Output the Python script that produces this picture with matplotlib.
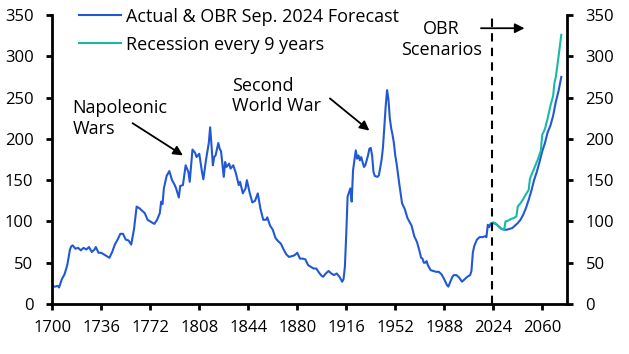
import matplotlib.pyplot as plt

# ==========================================
# Data (UK public debt, % of GDP)
# ==========================================

hist_years = [1700, 1702, 1704, 1705, 1707, 1709, 1711, 1713, 1714, 1715, 1717, 1719,
              1721, 1723, 1725, 1727, 1729, 1731, 1732, 1734, 1736, 1738, 1740, 1742,
              1744, 1746, 1748, 1750, 1752, 1754, 1756, 1758, 1760, 1762, 1764, 1766,
              1768, 1770, 1772, 1775, 1777, 1779, 1780, 1781, 1782, 1784, 1786, 1788,
              1790, 1791, 1793, 1794, 1796, 1798, 1800, 1801, 1803, 1805, 1806, 1808,
              1810, 1811, 1813, 1815, 1816, 1817, 1818, 1819, 1820, 1822, 1823, 1824,
              1826, 1827, 1828, 1830, 1831, 1833, 1835, 1837, 1838, 1840, 1842, 1843,
              1845, 1847, 1849, 1851, 1853, 1855, 1857, 1858, 1860, 1862, 1864, 1866,
              1868, 1870, 1872, 1874, 1876, 1878, 1880, 1882, 1884, 1886, 1888, 1890,
              1892, 1894, 1896, 1898, 1899, 1901, 1903, 1905, 1907, 1909, 1911, 1913,
              1914, 1915, 1916, 1917, 1918, 1919, 1920, 1921, 1923, 1924, 1925, 1926,
              1927, 1929, 1930, 1932, 1933, 1934, 1935, 1936, 1937, 1939, 1940, 1942,
              1943, 1944, 1945, 1946, 1947, 1948, 1949, 1950, 1951, 1952, 1953, 1955,
              1957, 1959, 1961, 1963, 1964, 1966, 1968, 1969, 1970, 1971, 1972, 1973,
              1974, 1975, 1976, 1978, 1980, 1982, 1984, 1986, 1988, 1990, 1991, 1992,
              1994, 1995, 1997, 1999, 2001, 2003, 2005, 2007, 2008, 2009, 2010, 2012,
              2014, 2016, 2018, 2019, 2020, 2021, 2022, 2023]
hist_debt = [22, 21, 22, 20, 30, 36, 47, 66, 70, 71, 67, 68,
             65, 68, 66, 69, 63, 66, 69, 62, 62, 60, 58, 56,
             63, 72, 78, 85, 85, 78, 77, 72, 90, 118, 116, 113,
             110, 102, 100, 97, 102, 110, 124, 121, 140, 155, 161, 150,
             144, 140, 129, 143, 144, 168, 160, 148, 187, 183, 178, 182,
             160, 151, 175, 195, 214, 192, 168, 178, 180, 195, 188, 185,
             154, 172, 166, 170, 164, 168, 158, 144, 148, 134, 140, 150,
             135, 123, 125, 134, 115, 102, 102, 105, 95, 90, 80, 76,
             73, 66, 60, 57, 58, 59, 62, 55, 55, 54, 47, 45,
             43, 43, 38, 34, 33, 37, 40, 37, 35, 37, 33, 27,
             30, 45, 85, 130, 135, 140, 124, 162, 186, 176, 180, 174,
             178, 166, 168, 180, 188, 189, 180, 160, 155, 154, 156, 175,
             190, 215, 240, 259, 248, 225, 213, 205, 195, 180, 170, 145,
             122, 115, 104, 98, 95, 82, 75, 69, 63, 56, 55, 50,
             50, 52, 47, 41, 40, 39, 39, 36, 30, 23, 21, 25,
             33, 35, 35, 32, 27, 30, 33, 35, 40, 62, 70, 78,
             81, 81, 82, 81, 96, 93, 97, 98]

fc_years = [2023, 2024, 2026, 2028, 2030, 2032, 2034, 2036, 2038, 2040, 2042, 2044,
            2046, 2048, 2050, 2052, 2054, 2056, 2058, 2060, 2062, 2064, 2066, 2068,
            2070, 2072, 2074]
fc_debt = [98, 98, 97, 94, 91, 90, 90, 91, 92, 95, 98, 102,
           108, 116, 126, 137, 150, 160, 172, 185, 195, 208, 216, 228,
           245, 258, 275]

rec_years = [2023, 2024, 2026, 2028, 2030, 2032, 2033, 2035, 2037, 2039, 2041, 2042,
             2044, 2046, 2048, 2050, 2051, 2053, 2055, 2057, 2059, 2060, 2062, 2064,
             2066, 2068, 2069, 2070, 2072, 2074]
rec_debt = [98, 99, 97, 94, 91, 90, 100, 101, 103, 104, 106, 118,
            122, 127, 133, 138, 152, 160, 168, 176, 186, 205, 212, 225,
            240, 252, 268, 275, 300, 326]

x_ticks = [1700, 1736, 1772, 1808, 1844, 1880, 1916, 1952, 1988, 2024, 2060]
y_ticks = [0, 50, 100, 150, 200, 250, 300, 350]

BLUE = "#2159d4"
TEAL = "#19b8a8"

# ==========================================
# Plot
# ==========================================

plt.rcParams["font.family"] = ["Open Sans", "DejaVu Sans"]
plt.rcParams["font.size"] = 13

fig = plt.figure(figsize=(6.29, 3.54), dpi=100)
ax = fig.add_axes([0.0831, 0.1412, 0.9010 - 0.0831, 0.9576 - 0.1412])

ax.plot(hist_years, hist_debt, color=BLUE, lw=1.5, label="Actual & OBR Sep. 2024 Forecast")
ax.plot(fc_years, fc_debt, color=BLUE, lw=1.5)
ax.plot(rec_years, rec_debt, color=TEAL, lw=1.5, label="Recession every 9 years")

ax.axvline(2023, color="black", lw=1.5, ls=(0, (4, 3)))

ax.set_xlim(1700, 2078)
ax.set_ylim(0, 350)
ax.set_xticks(x_ticks)
ax.set_yticks(y_ticks)

ax.spines["top"].set_visible(False)
for side in ["left", "right", "bottom"]:
    ax.spines[side].set_linewidth(2)

ax.tick_params(axis="both", direction="out", width=2, length=4.5, colors="black", labelsize=12)
ax.tick_params(axis="y", right=True, labelright=True, pad=9)
ax.tick_params(axis="x", pad=7)

ax.legend(loc="upper left", bbox_to_anchor=(0.052, 1.025), frameon=False,
          borderpad=0, borderaxespad=0, fontsize=13,
          handlelength=2.3, handletextpad=0.3, labelspacing=0.55)

arrow = dict(arrowstyle="-|>", color="black", lw=1.3,
             mutation_scale=14, shrinkA=0, shrinkB=0)

ax.text(1715, 225, "Napoleonic\nWars", ha="left", va="center", linespacing=1.2)
ax.annotate("", xy=(1796, 180), xytext=(1759, 219), arrowprops=arrow)

ax.text(1832, 252, "Second\nWorld War", ha="left", va="center", linespacing=1.2)
ax.annotate("", xy=(1933, 210), xytext=(1904, 249), arrowprops=arrow)

ax.text(1986, 320, "OBR\nScenarios", ha="center", va="center", linespacing=1.2)
ax.annotate("", xy=(2047, 334), xytext=(2015, 334), arrowprops=arrow)

plt.savefig("out.png", dpi=100)
